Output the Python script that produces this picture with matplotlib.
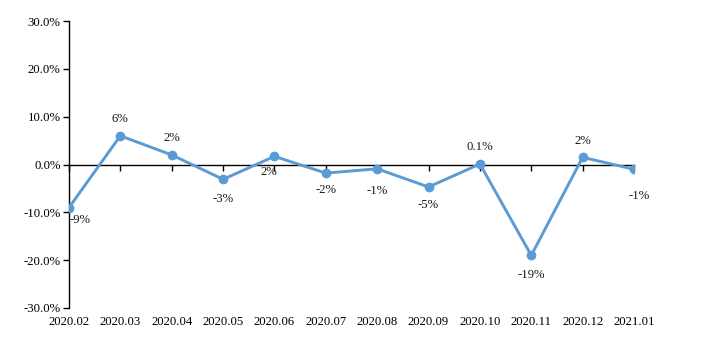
import matplotlib
matplotlib.use("Agg")
import matplotlib.pyplot as plt
from matplotlib.ticker import FuncFormatter

months = ["2020.02", "2020.03", "2020.04", "2020.05", "2020.06", "2020.07",
          "2020.08", "2020.09", "2020.10", "2020.11", "2020.12", "2021.01"]
values = [-9.0, 6.0, 2.0, -3.1, 1.7, -1.8, -0.9, -4.7, 0.1, -19.0, 1.5, -1.0]
labels = ["-9%", "6%", "2%", "-3%", "2%", "-2%", "-1%", "-5%", "0.1%", "-19%", "2%", "-1%"]
# label offsets in points (dx, dy)
offsets = [(8, -9), (0, 12), (0, 12), (0, -14), (-4, -11), (0, -12),
           (0, -16), (0, -13), (0, 12), (0, -14), (0, 12), (4, -19)]
yticks = [-30, -20, -10, 0, 10, 20, 30]

plt.rcParams['font.family'] = ['Liberation Serif', 'DejaVu Serif']
color = "#5b9bd5"

fig = plt.figure(figsize=(7.01, 3.51), dpi=100)
ax = fig.add_axes([69/701, 1-308/351, (634-69)/701, 287/351])

x = list(range(len(months)))
ax.plot(x, values, color=color, lw=2.1, marker='o', ms=6, zorder=3)
for xi, v, lab, (dx, dy) in zip(x, values, labels, offsets):
    ax.annotate(lab, (xi, v), xytext=(dx, dy), textcoords='offset points',
                ha='center', va='center', fontsize=9.2, color='#1a1a1a')

ax.set_xlim(0, len(months) - 1)
ax.set_ylim(-30, 30)
ax.set_yticks(yticks)
ax.yaxis.set_major_formatter(FuncFormatter(lambda v, p: f"{v:.1f}%"))
ax.tick_params(axis='y', length=4, width=1, pad=2, labelsize=9.2, colors='black')

for s in ['top', 'right']:
    ax.spines[s].set_visible(False)
ax.spines['bottom'].set_position(('data', 0))
ax.spines['left'].set_linewidth(1)
ax.spines['bottom'].set_linewidth(1)
ax.set_xticks(x)
ax.tick_params(axis='x', length=4, width=1, direction='out', labelbottom=False)

sec = ax.secondary_xaxis('bottom')
sec.set_xticks(x)
sec.set_xticklabels(months)
sec.tick_params(axis='x', length=0, pad=6, labelsize=9.2)
sec.spines['bottom'].set_visible(False)

fig.savefig("out.png", dpi=100, facecolor='white')
